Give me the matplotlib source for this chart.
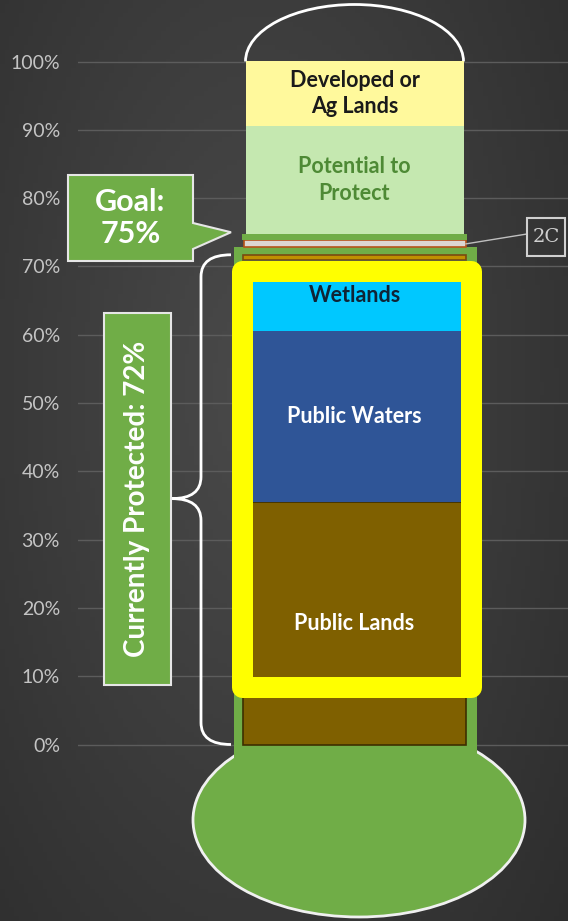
import matplotlib.pyplot as plt
import numpy as np
from matplotlib.patches import Ellipse, Arc, Polygon, Rectangle, PathPatch
from matplotlib.path import Path

# layers of the thermometer, bottom to top (percent of area)
layer_names = ["Public Lands", "Public Waters", "Wetlands", "Other Protected", "Frame Edge",
               "2C", "Goal Band", "Potential to Protect", "Developed or Ag Lands"]
layer_values = [35.5, 25.1, 10.4, 0.6, 1.2, 1.0, 1.0, 15.7, 9.5]
layer_labels = ["Public Lands", "Public Waters", "Wetlands", "", "", "", "",
                "Potential to\nProtect", "Developed or\nAg Lands"]

ticks = [0, 10, 20, 30, 40, 50, 60, 70, 80, 90, 100]
tick_labels = ["0%", "10%", "20%", "30%", "40%", "50%", "60%", "70%", "80%", "90%", "100%"]

goal = 75
protected = 72

# styles
layer_colors = ["#7f6000", "#2f5597", "#00c8ff", "#bf9000", "none",
                "#dcd6d2", "#70ad47", "#c5e8b0", "#fff99c"]
layer_edges = ["#3d2e00", "none", "none", "#7a4a10", "none", "#b5541a", "none", "none", "none"]
label_colors = ["white", "white", "#0f2436", "k", "k", "k", "k", "#4e8a35", "#1a1a1a"]
layer_widths = [223, 223, 223, 223, 0, 222, 225, 218, 218]
green = "#70ad47"

W, H = 568, 921
PX = 6.83      # pixels per percent
ZERO = 744.5   # pixel row of 0%


def pct(py):
    return (ZERO - py) / PX


fig = plt.figure(figsize=(W / 100, H / 100), dpi=100)

# background gradient
bg = fig.add_axes([0, 0, 1, 1])
yy, xx = np.mgrid[0:1:200j, 0:1:120j]
r = np.sqrt(((xx - 0.45) * 1.1) ** 2 + ((yy - 0.42) * 0.9) ** 2)
shade = 0.29 - 0.14 * np.clip(r, 0, 1)
bg.imshow(np.dstack([shade, shade, shade]), aspect="auto", extent=[0, 1, 0, 1], origin="upper")
bg.axis("off")

ax = fig.add_axes([78 / W, 0, 490 / W, 1])
ax.patch.set_alpha(0)
ax.set_xlim(78, W)
ax.set_ylim(pct(H), pct(0))
for s in ax.spines.values():
    s.set_visible(False)
ax.set_xticks([])
ax.set_yticks(ticks, tick_labels)
ax.tick_params(axis="y", length=0, pad=13, labelsize=14, labelcolor="#c4c4c4")
for t in ax.get_yticklabels():
    t.set_family("Lato")
ax.grid(axis="y", color="#5c5c5c", lw=1)
ax.set_axisbelow(True)

cx = 354.5

# bulb and tube
ax.add_patch(Ellipse((359, pct(820)), 332, 194 / PX, fc=green, ec="#f0f0f0", lw=2, zorder=1))
ax.bar(355.5, 72.8 + 2.5, width=243, bottom=-2.5, color=green, zorder=2)
ax.add_patch(Arc((cx, 100), 218, 2 * 57 / PX, theta1=0, theta2=180, color="white", lw=2, zorder=2))

# stacked layers
bottoms = np.concatenate([[0], np.cumsum(layer_values)[:-1]])
for i in range(len(layer_values)):
    if layer_colors[i] == "none":
        continue
    ax.bar(cx, layer_values[i], width=layer_widths[i], bottom=bottoms[i],
           color=layer_colors[i], edgecolor=layer_edges[i], lw=1.2, zorder=3)
    if layer_labels[i]:
        ax.text(cx, bottoms[i] + layer_values[i] / 2, layer_labels[i], ha="center", va="center",
                color=label_colors[i], fontsize=15.5, fontweight="bold", family="Lato",
                linespacing=1.3, zorder=5)

# brace for currently protected
x_end, x_mid, x_tip, rr = 231, 201, 172, 3.2
y0, y1 = 0, protected - 0.3
ym = protected / 2
verts = [(x_end, y1), (x_mid, y1), (x_mid, y1 - rr), (x_mid, ym + rr), (x_mid, ym), (x_tip, ym),
         (x_mid, ym), (x_mid, ym - rr), (x_mid, y0 + rr), (x_mid, y0), (x_end, y0)]
codes = [Path.MOVETO, Path.CURVE3, Path.CURVE3, Path.LINETO, Path.CURVE3, Path.CURVE3,
         Path.CURVE3, Path.CURVE3, Path.LINETO, Path.CURVE3, Path.CURVE3]
ax.add_patch(PathPatch(Path(verts, codes), fc="none", ec="white", lw=2, zorder=4))

ax.add_patch(Rectangle((104, pct(685)), 67, (685 - 313) / PX, fc=green, ec="#e6e6e6", lw=1.5,
                       zorder=4, clip_on=False))
ax.text(137.5, ym, "Currently Protected: %d%%" % protected, rotation=90, ha="center", va="center",
        color="white", fontsize=20, fontweight="bold", family="Lato", zorder=5)

# goal callout
gy_top, gy_bot = pct(175), pct(261)
goal_pts = [(68, gy_top), (193, gy_top), (193, pct(223)), (231, goal), (193, pct(249)),
            (193, gy_bot), (68, gy_bot)]
ax.add_patch(Polygon(goal_pts, closed=True, fc=green, ec="#e6e6e6", lw=1.5, zorder=4, clip_on=False))
ax.text(130.5, (gy_top + gy_bot) / 2, "Goal:\n%d%%" % goal, ha="center", va="center", color="white",
        fontsize=22, fontweight="bold", family="Lato", linespacing=1.2, zorder=5, clip_on=False)

# 2C callout
c2 = bottoms[5] + layer_values[5] / 2
ax.plot([466, 527], [c2, pct(234)], color="#bfbfbf", lw=1, zorder=4)
ax.add_patch(Rectangle((527, pct(256)), 38, 38 / PX, fc="none", ec="#d0d0d0", lw=1.5, zorder=4))
ax.text(546, pct(237), "2C", ha="center", va="center", color="#d0d0d0", fontsize=14,
        family="DejaVu Serif", zorder=5)

# yellow highlight frame
ov = fig.add_axes([0, 0, 1, 1])
ov.set_xlim(0, W)
ov.set_ylim(H, 0)
ov.axis("off")
ov.add_patch(Rectangle((241.5, 270.5), 229, 416, fill=False, ec="#ffff00", lw=21 * 0.72,
                       joinstyle="round"))

fig.savefig("out.png", dpi=100)
